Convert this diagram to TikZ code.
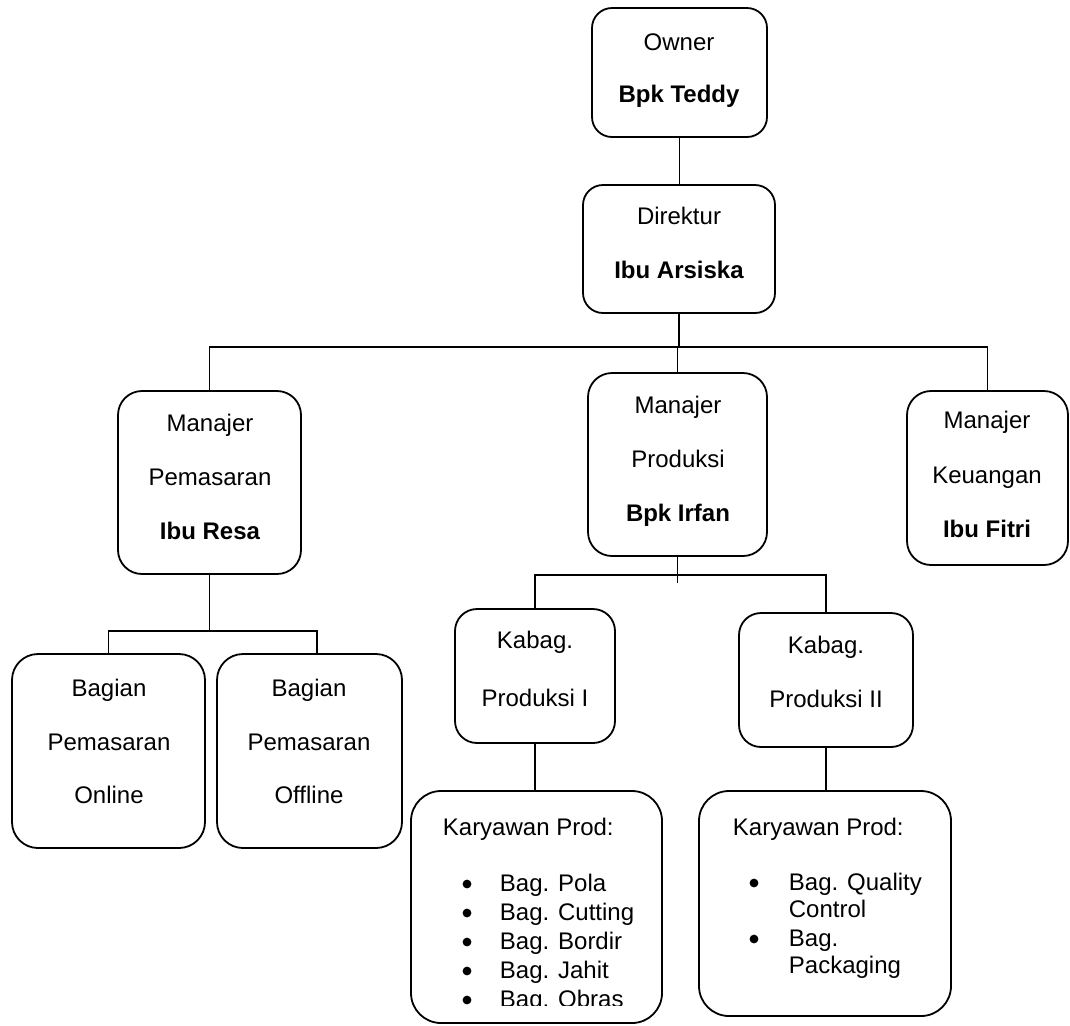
\documentclass[tikz,border=0pt]{standalone}
\usepackage{fontspec}
\setmainfont{Liberation Sans}
\usetikzlibrary{fit}
\begin{document}
\begin{tikzpicture}[x=0.5pt,y=-0.5pt,
  line width=0.9pt,
  box/.style={draw, rounded corners=#1, inner sep=0pt, outer sep=0pt},
  box/.default=10pt,
  t/.style={anchor=base, inner sep=0pt, font=\fontsize{12}{14}\selectfont},
  tl/.style={t, anchor=base west},
  tb/.style={t, font=\fontsize{12}{14}\selectfont\bfseries},
  dot/.style={circle, fill, draw=none, inner sep=0pt, minimum size=4.4pt},
  conn/.style={draw, line width=0.9pt}]
\useasboundingbox (0,0) rectangle (1070,1025);

% boxes
\node[box=10pt, fit={(592,8) (767,137)}] (owner) {};
\node[box=10pt, fit={(583,185) (775,313)}] (dir) {};
\node[box=12pt, fit={(118,391) (301,574)}] (pm) {};
\node[box=12pt, fit={(588,373) (767,556)}] (pp) {};
\node[box=12pt, fit={(907,391) (1068,565)}] (pk) {};
\node[box=13pt, fit={(12,654) (205,848)}] (on) {};
\node[box=13pt, fit={(217,654) (402,848)}] (off) {};
\node[box=11pt, fit={(455,609) (615,743)}] (k1) {};
\node[box=11pt, fit={(739,613) (913,747)}] (k2) {};
\node[box=15pt, fit={(411,791) (662,1023)}] (kar1) {};
\node[box=15pt, fit={(699,791) (951,1016)}] (kar2) {};

% texts
\node[t]  (owner-a) at (679,50)  {Owner};
\node[tb] (owner-b) at (679,102) {Bpk Teddy};
\node[t]  (dir-a) at (679,224) {Direktur};
\node[tb] (dir-b) at (679,278) {Ibu Arsiska};
\node[t]  (pm-a) at (210,431) {Manajer};
\node[t]  (pm-b) at (210,485) {Pemasaran};
\node[tb] (pm-c) at (210,539) {Ibu Resa};
\node[t]  (pp-a) at (678,413) {Manajer};
\node[t]  (pp-b) at (678,467) {Produksi};
\node[tb] (pp-c) at (678,521) {Bpk Irfan};
\node[t]  (pk-a) at (987,428) {Manajer};
\node[t]  (pk-b) at (987,483) {Keuangan};
\node[tb] (pk-c) at (987,537) {Ibu Fitri};
\node[t]  (on-a) at (109,696) {Bagian};
\node[t]  (on-b) at (109,750) {Pemasaran};
\node[t]  (on-c) at (109,803) {Online};
\node[t]  (off-a) at (309,696) {Bagian};
\node[t]  (off-b) at (309,750) {Pemasaran};
\node[t]  (off-c) at (309,803) {Offline};
\node[t]  (k1-a) at (535,648) {Kabag.};
\node[t]  (k1-b) at (535,706) {Produksi I};
\node[t]  (k2-a) at (826,653) {Kabag.};
\node[t]  (k2-b) at (826,707) {Produksi II};

\node[tl] (kar1-h) at (442,835) {Karyawan Prod:};
\begin{scope}
  \clip (411,791) rectangle (662,1005);
  \foreach \i/\yy/\s in {1/891/Pola,2/920/Cutting,3/949/Bordir,4/978/Jahit,5/1007/Obras}{
    \node[dot] (kar1-b\i) at (467,\yy-7) {};
    \node[tl] (kar1-i\i) at (499,\yy) {Bag. \s};
  }
\end{scope}

\node[tl] (kar2-h) at (732,835) {Karyawan Prod:};
\node[dot] (kar2-b1) at (754,883) {};
\node[tl] (kar2-i1) at (788,890) {Bag. Quality};
\node[tl] (kar2-i1b) at (788,917) {Control};
\node[dot] (kar2-b2) at (754,939) {};
\node[tl] (kar2-i2) at (788,946) {Bag.};
\node[tl] (kar2-i2b) at (788,973) {Packaging};

% connectors
\coordinate (bus) at (679,347);
\coordinate (pmbus) at (210,631);
\coordinate (ppbus) at (679,575);
\draw[conn] (owner.south) -- (owner.south |- dir.north);
\draw[conn] (dir.south) -- (dir.south |- bus);
\draw[conn] (pm.north) |- (pk.north |- bus) -- (pk.north);
\draw[conn] (pp.north) -- (pp.north |- bus);
\draw[conn] (pm.south) -- (pm.south |- pmbus);
\draw[conn] (on.north) |- ([xshift=3.75pt]off.north |- pmbus) -- ([xshift=3.75pt]off.north);
\draw[conn] (pp.south) -- ++(0,27);
\draw[conn] (k1.north) |- (k2.north |- ppbus) -- (k2.north);
\draw[conn] (k1.south) -- (k1.south |- kar1.north);
\draw[conn] (k2.south) -- (k2.south |- kar2.north);
\end{tikzpicture}
\end{document}
